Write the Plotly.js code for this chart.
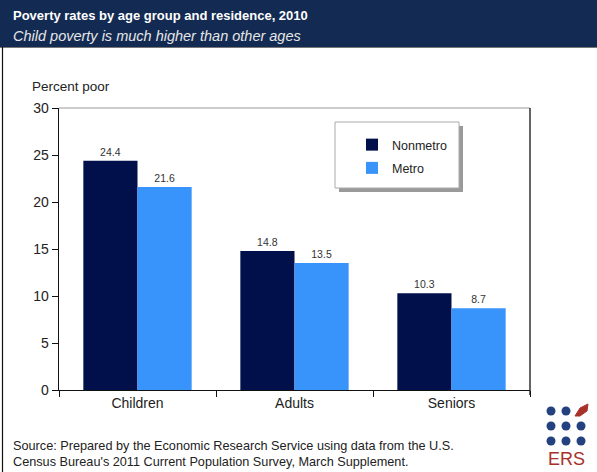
<!DOCTYPE html>
<html><head><meta charset="utf-8">
<script src="https://cdn.plot.ly/plotly-3.0.1.min.js"></script>
<style>html,body{margin:0;padding:0;background:#fff}</style>
</head><body><div id="chart" style="width:597px;height:472px"></div>
<script>
const categories = ["Children", "Adults", "Seniors"];
const nonmetro = [24.4, 14.8, 10.3];
const metro = [21.6, 13.5, 8.7];
const seriesNames = ["Nonmetro", "Metro"];
const yTicks = [0, 5, 10, 15, 20, 25, 30];

const W = 597, H = 472, L = 59, R = 530, T = 108, B = 390;
const px = x => (x - L) / (R - L);
const py = y => (B - y) / (B - T);

const font = "Liberation Sans, Arial, sans-serif";
const traces = [
  {type: "bar", name: seriesNames[0], x: categories, y: nonmetro, legendgroup: "a",
   marker: {color: "#01104a"}, text: nonmetro.map(v => v.toFixed(1)), textposition: "outside",
   textfont: {size: 10.5, color: "#333", family: font}, cliponaxis: false, hoverinfo: "none"},
  {type: "bar", name: seriesNames[1], x: categories, y: metro, legendgroup: "b",
   marker: {color: "#3894fb"}, text: metro.map(v => v.toFixed(1)), textposition: "outside",
   textfont: {size: 10.5, color: "#333", family: font}, cliponaxis: false, hoverinfo: "none"}
];

const shapes = [
  // header band
  {type: "rect", xref: "paper", yref: "paper", x0: px(-2), x1: px(W + 2), y0: py(47), y1: py(-2),
   fillcolor: "#132a52", line: {width: 0}, layer: "below"},
  {type: "line", xref: "paper", yref: "paper", x0: px(0), x1: px(W), y0: py(47.5), y1: py(47.5),
   line: {color: "#777", width: 1}},
  // left frame line
  {type: "line", xref: "paper", yref: "paper", x0: px(2.5), x1: px(2.5), y0: py(47), y1: py(H),
   line: {color: "#111", width: 1.2}},
  // plot top and right border
  {type: "line", xref: "paper", yref: "paper", x0: 0, x1: 1, y0: 1, y1: 1, line: {color: "#999", width: 1}},
  {type: "line", xref: "paper", yref: "paper", x0: 1, x1: 1, y0: py(T), y1: py(B + 5), line: {color: "#111", width: 1.3}},
  // legend shadow and box
  {type: "rect", xref: "paper", yref: "paper", x0: px(339), x1: px(463), y0: py(192), y1: py(126),
   fillcolor: "#9a9a9a", line: {width: 0}},
  {type: "rect", xref: "paper", yref: "paper", x0: px(335), x1: px(459), y0: py(188), y1: py(122),
   fillcolor: "#fff", line: {color: "#aaa", width: 1}},
];
// ERS logo dots
const dotColor = "#23407f";
[[551, 411], [566, 411], [551, 426], [566, 426], [581, 426], [551, 441], [566, 441], [581, 441]].forEach(([cx, cy]) => {
  shapes.push({type: "circle", xref: "paper", yref: "paper", x0: px(cx - 4.5), x1: px(cx + 4.5),
    y0: py(cy + 4.5), y1: py(cy - 4.5), fillcolor: dotColor, line: {width: 0}});
});
// leaf
(function(){
  const pts = [[575, 416], [580, 408], [588, 404], [587, 411], [580, 416]];
  let d = "M" + pts.map(p => px(p[0]) + "," + py(p[1])).join(" L") + " Z";
  shapes.push({type: "path", xref: "paper", yref: "paper", path: d, fillcolor: "#a8322a", line: {color: "#a8322a", width: 1}});
})();

const annotations = [
  {text: "<b>Poverty rates by age group and residence, 2010</b>", xref: "paper", yref: "paper",
   x: px(11), y: py(16), xanchor: "left", yanchor: "middle", showarrow: false,
   font: {size: 13, color: "#fff", family: font}},
  {text: "<i>Child poverty is much higher than other ages</i>", xref: "paper", yref: "paper",
   x: px(11), y: py(36), xanchor: "left", yanchor: "middle", showarrow: false,
   font: {size: 14.5, color: "#e6e6e6", family: font}},
  {text: "Percent poor", xref: "paper", yref: "paper", x: px(30), y: py(87), xanchor: "left", yanchor: "middle",
   showarrow: false, font: {size: 13.5, color: "#222", family: font}},
  {text: "Source: Prepared by the Economic Research Service using data from the U.S.", xref: "paper", yref: "paper",
   x: px(11), y: py(446), xanchor: "left", yanchor: "middle", showarrow: false, font: {size: 12.7, color: "#222", family: font}},
  {text: "Census Bureau's 2011 Current Population Survey, March Supplement.", xref: "paper", yref: "paper",
   x: px(11), y: py(462), xanchor: "left", yanchor: "middle", showarrow: false, font: {size: 12.7, color: "#222", family: font}},
  {text: "ERS", xref: "paper", yref: "paper", x: px(566), y: py(459), xanchor: "center", yanchor: "middle",
   showarrow: false, font: {size: 18, color: "#a8322a", family: font}},
];

const layout = {
  width: W, height: H,
  margin: {l: L, r: W - R, t: T, b: H - B, pad: 0},
  paper_bgcolor: "#fff", plot_bgcolor: "#fff",
  font: {family: font, color: "#222"},
  barmode: "group", bargap: 0.31, bargroupgap: 0,
  showlegend: true,
  legend: {x: px(352), y: py(130), xanchor: "left", yanchor: "top", bgcolor: "rgba(0,0,0,0)",
    borderwidth: 0, font: {size: 12.5, color: "#222", family: font}, tracegroupgap: 4, traceorder: "grouped",
    itemclick: false},
  xaxis: {type: "category", showline: true, linecolor: "#111", linewidth: 1.3, ticks: "outside",
    tickson: "boundaries", ticklen: 6, tickcolor: "#111", tickfont: {size: 14, color: "#222"},
    showgrid: false, zeroline: false, fixedrange: true},
  yaxis: {range: [0, 30], tickvals: yTicks, showline: true, linecolor: "#111", linewidth: 1.3,
    ticks: "outside", ticklen: 6, tickcolor: "#111", tickfont: {size: 14, color: "#222"},
    showgrid: false, zeroline: false, fixedrange: true},
  shapes: shapes, annotations: annotations
};
Plotly.newPlot("chart", traces, layout, {displayModeBar: false, staticPlot: true});
</script></body></html>
